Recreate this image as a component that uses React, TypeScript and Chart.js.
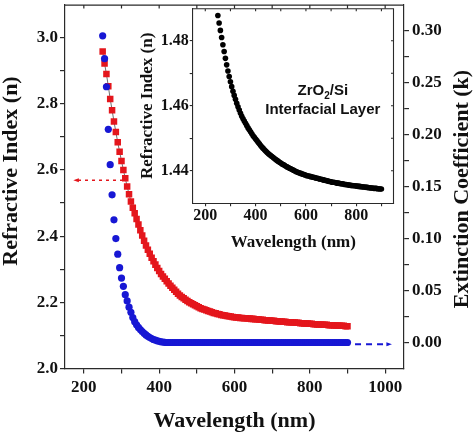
import React, { useEffect, useRef } from 'react';
import { Chart, registerables } from 'chart.js';

Chart.register(...registerables);

// ---------- data ----------
const WAVELENGTH_NM = [
  250, 255, 260, 265, 270, 275, 280, 285, 290, 295,
  300, 305, 310, 315, 320, 325, 330, 335, 340, 345,
  350, 355, 360, 365, 370, 375, 380, 385, 390, 395,
  400, 405, 410, 415, 420, 425, 430, 435, 440, 445,
  450, 455, 460, 465, 470, 475, 480, 485, 490, 495,
  500, 505, 510, 515, 520, 525, 530, 535, 540, 545,
  550, 555, 560, 565, 570, 575, 580, 585, 590, 595,
  600, 605, 610, 615, 620, 625, 630, 635, 640, 645,
  650, 655, 660, 665, 670, 675, 680, 685, 690, 695,
  700, 705, 710, 715, 720, 725, 730, 735, 740, 745,
  750, 755, 760, 765, 770, 775, 780, 785, 790, 795,
  800, 805, 810, 815, 820, 825, 830, 835, 840, 845,
  850, 855, 860, 865, 870, 875, 880, 885, 890, 895,
  900,
];

// Refractive index n of the film (red squares, left axis)
const N_FILM = [
  2.958, 2.922, 2.890, 2.853, 2.815, 2.781, 2.747, 2.715, 2.684, 2.655,
  2.627, 2.600, 2.575, 2.550, 2.527, 2.505, 2.486, 2.469, 2.452, 2.435,
  2.418, 2.402, 2.386, 2.372, 2.359, 2.347, 2.335, 2.324, 2.314, 2.304,
  2.295, 2.286, 2.278, 2.271, 2.264, 2.257, 2.250, 2.244, 2.238, 2.232,
  2.226, 2.221, 2.216, 2.212, 2.208, 2.204, 2.200, 2.197, 2.194, 2.191,
  2.188, 2.185, 2.182, 2.180, 2.178, 2.176, 2.174, 2.172, 2.170, 2.168,
  2.167, 2.165, 2.164, 2.162, 2.161, 2.160, 2.159, 2.158, 2.157, 2.156,
  2.155, 2.154, 2.154, 2.153, 2.153, 2.152, 2.152, 2.151, 2.151, 2.150,
  2.150, 2.149, 2.149, 2.148, 2.147, 2.147, 2.146, 2.146, 2.145, 2.145,
  2.144, 2.144, 2.143, 2.143, 2.142, 2.142, 2.141, 2.141, 2.140, 2.140,
  2.140, 2.139, 2.139, 2.138, 2.138, 2.137, 2.137, 2.136, 2.136, 2.136,
  2.135, 2.135, 2.134, 2.134, 2.133, 2.133, 2.133, 2.132, 2.132, 2.132,
  2.131, 2.131, 2.131, 2.130, 2.130, 2.130, 2.129, 2.129, 2.129, 2.128,
  2.128,
];

// Extinction coefficient k of the film (blue circles, right axis)
const K_FILM = [
  0.295, 0.273, 0.246, 0.205, 0.171, 0.142, 0.118, 0.100, 0.085, 0.072,
  0.062, 0.054, 0.046, 0.040, 0.034, 0.029, 0.024, 0.020, 0.017, 0.0145,
  0.0125, 0.0105, 0.0088, 0.0073, 0.0060, 0.0048, 0.0038, 0.0029, 0.0022, 0.0016,
  0.0011, 0.0007, 0.0004, 0.0002, 0, 0, 0, 0, 0, 0,
  0, 0, 0, 0, 0, 0, 0, 0, 0, 0,
  0, 0, 0, 0, 0, 0, 0, 0, 0, 0,
  0, 0, 0, 0, 0, 0, 0, 0, 0, 0,
  0, 0, 0, 0, 0, 0, 0, 0, 0, 0,
  0, 0, 0, 0, 0, 0, 0, 0, 0, 0,
  0, 0, 0, 0, 0, 0, 0, 0, 0, 0,
  0, 0, 0, 0, 0, 0, 0, 0, 0, 0,
  0, 0, 0, 0, 0, 0, 0, 0, 0, 0,
  0, 0, 0, 0, 0, 0, 0, 0, 0, 0,
  0,
];

// Refractive index of the ZrO2/Si interfacial layer (inset, black dots)
const N_INTERFACE = [
  1.4878, 1.4855, 1.4832, 1.4810, 1.4788, 1.4767, 1.4746, 1.4726, 1.4707, 1.4690,
  1.4674, 1.4659, 1.4645, 1.4632, 1.4620, 1.4608, 1.4597, 1.4587, 1.4577, 1.4568,
  1.4560, 1.4553, 1.4546, 1.4539, 1.4532, 1.4526, 1.4520, 1.4514, 1.4508, 1.4503,
  1.4498, 1.4493, 1.4488, 1.4483, 1.4478, 1.4473, 1.4469, 1.4465, 1.4461, 1.4457,
  1.4453, 1.4450, 1.4447, 1.4444, 1.4441, 1.4438, 1.4435, 1.4432, 1.4429, 1.4426,
  1.4424, 1.4421, 1.4419, 1.4417, 1.4414, 1.4412, 1.4410, 1.4408, 1.4406, 1.4404,
  1.4402, 1.4400, 1.4398, 1.4396, 1.4395, 1.4393, 1.4392, 1.4390, 1.4389, 1.4388,
  1.4386, 1.4385, 1.4384, 1.4383, 1.4382, 1.4381, 1.4380, 1.4379, 1.4378, 1.4377,
  1.4376, 1.4375, 1.4374, 1.4373, 1.4372, 1.4371, 1.4370, 1.4369, 1.4368, 1.4367,
  1.4366, 1.4365, 1.4365, 1.4364, 1.4363, 1.4362, 1.4362, 1.4361, 1.4360, 1.4360,
  1.4359, 1.4358, 1.4358, 1.4357, 1.4356, 1.4356, 1.4355, 1.4355, 1.4354, 1.4354,
  1.4353, 1.4353, 1.4352, 1.4352, 1.4351, 1.4351, 1.4350, 1.4350, 1.4349, 1.4349,
  1.4348, 1.4348, 1.4347, 1.4347, 1.4346, 1.4346, 1.4346, 1.4345, 1.4345, 1.4344,
  1.4344,
];

// tick values
const X_TICKS = [200, 300, 400, 500, 600, 700, 800, 900, 1000];
const X_LABELED = [200, 400, 600, 800, 1000];
const N_TICKS = [2.0, 2.1, 2.2, 2.3, 2.4, 2.5, 2.6, 2.7, 2.8, 2.9, 3.0];
const N_LABELED = ['2.0', '2.2', '2.4', '2.6', '2.8', '3.0'];
const K_TICKS = [0, 0.025, 0.05, 0.075, 0.1, 0.125, 0.15, 0.175, 0.2, 0.225, 0.25, 0.275, 0.3];
const K_LABELED = ['0.00', '0.05', '0.10', '0.15', '0.20', '0.25', '0.30'];
const INSET_X_TICKS = [200, 300, 400, 500, 600, 700, 800, 900];
const INSET_X_LABELED = [200, 400, 600, 800];
const INSET_N_TICKS = [1.44, 1.45, 1.46, 1.47, 1.48];
const INSET_N_LABELED = ['1.44', '1.46', '1.48'];

// axis titles
const N_TITLE = 'Refractive Index (n)';
const K_TITLE = 'Extinction Coefficient (k)';

// annotation arrows (data coordinates)
const N_ARROW = { fromNm: 304, toNm: 172, value: 2.569 };
const K_ARROW = { fromNm: 920, toNm: 1018, value: -0.0017 };
const INSET_LABEL = { nm: 667, line1: 1.4651, line2: 1.459 };

// ---------- styling ----------
const SERIF = '"Liberation Serif", "Times New Roman", Times, serif';
const SANS = '"Liberation Sans", Arial, Helvetica, sans-serif';
const RED = '#e4161c';
const BLUE = '#1717d4';
const AXIS = '#2a2a2a';
const TEXT = '#111111';

function drawArrow(ctx: CanvasRenderingContext2D, x0: number, x1: number, y: number, color: string, dash: number[], width: number, head: number) {
  const dir = x1 > x0 ? 1 : -1;
  ctx.save();
  ctx.strokeStyle = color;
  ctx.fillStyle = color;
  ctx.lineWidth = width;
  ctx.setLineDash(dash);
  ctx.beginPath();
  ctx.moveTo(x0, y);
  ctx.lineTo(x1 - dir * head, y);
  ctx.stroke();
  ctx.setLineDash([]);
  ctx.beginPath();
  ctx.moveTo(x1, y);
  ctx.lineTo(x1 - dir * head * 1.6, y - head * 0.6);
  ctx.lineTo(x1 - dir * head * 1.6, y + head * 0.6);
  ctx.closePath();
  ctx.fill();
  ctx.restore();
}

function drawVerticalTitle(ctx: CanvasRenderingContext2D, text: string, x: number, y: number) {
  ctx.save();
  ctx.translate(x, y);
  ctx.rotate(-Math.PI / 2);
  ctx.font = `bold 22px ${SERIF}`;
  ctx.fillStyle = TEXT;
  ctx.textAlign = 'center';
  ctx.textBaseline = 'middle';
  ctx.fillText(text, 0, 0);
  ctx.restore();
}

const mainDecor = {
  id: 'mainDecor',
  afterDraw(chart: any) {
    const { ctx, chartArea: a, scales } = chart;
    const xs = scales.x;
    ctx.save();
    ctx.strokeStyle = AXIS;
    ctx.lineWidth = 1.2;
    ctx.beginPath();
    ctx.moveTo(a.left, a.top + 0.6);
    ctx.lineTo(a.right, a.top + 0.6);
    X_TICKS.forEach((v) => {
      const px = xs.getPixelForValue(v);
      ctx.moveTo(px, a.top);
      ctx.lineTo(px, a.top + 4);
    });
    ctx.stroke();
    ctx.restore();

    // axis titles, both reading bottom-to-top
    drawVerticalTitle(ctx, N_TITLE, 11, 171);
    drawVerticalTitle(ctx, K_TITLE, 462, 189);

    const yRed = scales.yn.getPixelForValue(N_ARROW.value);
    drawArrow(ctx, xs.getPixelForValue(N_ARROW.fromNm), xs.getPixelForValue(N_ARROW.toNm), yRed, RED, [3, 4], 1.6, 3.5);
    const yBlue = scales.yk.getPixelForValue(K_ARROW.value);
    drawArrow(ctx, xs.getPixelForValue(K_ARROW.fromNm), xs.getPixelForValue(K_ARROW.toNm), yBlue, BLUE, [6, 5], 2.2, 3.5);
  },
};

const insetDecor = {
  id: 'insetDecor',
  afterDraw(chart: any) {
    const { ctx, chartArea: a, scales } = chart;
    const xs = scales.x;
    const ys = scales.y;
    ctx.save();
    ctx.strokeStyle = AXIS;
    ctx.lineWidth = 1.1;
    ctx.beginPath();
    ctx.moveTo(a.left, a.top + 0.5);
    ctx.lineTo(a.right - 0.5, a.top + 0.5);
    ctx.lineTo(a.right - 0.5, a.bottom);
    INSET_X_TICKS.forEach((v) => {
      const px = xs.getPixelForValue(v);
      ctx.moveTo(px, a.top);
      ctx.lineTo(px, a.top + 3);
    });
    INSET_N_TICKS.forEach((v) => {
      const py = ys.getPixelForValue(v);
      ctx.moveTo(a.right, py);
      ctx.lineTo(a.right - 3, py);
    });
    ctx.stroke();

    // "ZrO2/Si" and "Interfacial Layer"
    const cx = xs.getPixelForValue(INSET_LABEL.nm);
    const y1 = ys.getPixelForValue(INSET_LABEL.line1);
    const y2 = ys.getPixelForValue(INSET_LABEL.line2);
    ctx.fillStyle = TEXT;
    ctx.textBaseline = 'alphabetic';
    const big = `bold 15px ${SANS}`;
    const small = `bold 10px ${SANS}`;
    ctx.font = big;
    const wA = ctx.measureText('ZrO').width;
    const wC = ctx.measureText('/Si').width;
    ctx.font = small;
    const wB = ctx.measureText('2').width;
    let x0 = cx - (wA + wB + wC) / 2;
    const base1 = y1 + 5.4;
    ctx.textAlign = 'left';
    ctx.font = big;
    ctx.fillText('ZrO', x0, base1);
    x0 += wA;
    ctx.font = small;
    ctx.fillText('2', x0, base1 + 4);
    x0 += wB;
    ctx.font = big;
    ctx.fillText('/Si', x0, base1);
    ctx.textAlign = 'center';
    ctx.fillText('Interfacial Layer', cx, y2 + 5.4);
    ctx.restore();
  },
};

function pts(ys: number[]) {
  return WAVELENGTH_NM.map((x, i) => ({ x, y: ys[i] }));
}

function setTicks(values: number[]) {
  return (scale: any) => {
    scale.ticks = values.map((value) => ({ value }));
  };
}

export default function App() {
  const mainRef = useRef<HTMLCanvasElement>(null);
  const insetRef = useRef<HTMLCanvasElement>(null);

  useEffect(() => {
    const tickFont = { family: SERIF, size: 17, weight: 'bold' as const, lineHeight: 1 };
    const titleFont = { family: SERIF, size: 22, weight: 'bold' as const, lineHeight: 1 };

    const main = new Chart(mainRef.current as HTMLCanvasElement, {
      type: 'scatter',
      data: {
        datasets: [
          {
            label: 'k',
            data: pts(K_FILM),
            yAxisID: 'yk',
            showLine: false,
            pointStyle: 'circle',
            pointRadius: 3.6,
            pointHoverRadius: 3.6,
            pointBackgroundColor: BLUE,
            pointBorderWidth: 0,
          },
          {
            label: 'n',
            data: pts(N_FILM),
            yAxisID: 'yn',
            showLine: true,
            borderColor: 'rgba(40,40,40,0.85)',
            borderWidth: 0.8,
            pointStyle: 'rect',
            pointRadius: 4.6,
            pointHoverRadius: 4.6,
            pointBackgroundColor: RED,
            pointBorderWidth: 0,
          },
        ],
      },
      options: {
        responsive: false,
        devicePixelRatio: 1,
        animation: false,
        events: [],
        layout: { padding: 0 },
        plugins: { legend: { display: false }, tooltip: { enabled: false } },
        scales: {
          x: {
            type: 'linear',
            position: 'bottom',
            min: 150,
            max: 1050,
            afterBuildTicks: setTicks(X_TICKS),
            afterFit: (s: any) => { s.height = 65.5; s.paddingLeft = 0; s.paddingRight = 0; },
            ticks: {
              autoSkip: false,
              maxRotation: 0,
              padding: 6,
              color: TEXT,
              font: tickFont,
              callback: (v: any) => (X_LABELED.includes(Math.round(v)) ? String(Math.round(v)) : ''),
            },
            grid: { drawOnChartArea: false, drawTicks: true, tickLength: 5, color: AXIS, lineWidth: 1.2 },
            border: { color: AXIS, width: 1.2 },
            title: { display: true, text: 'Wavelength (nm)', color: TEXT, font: titleFont, padding: { top: 0, bottom: 2 } },
          },
          yn: {
            type: 'linear',
            position: 'left',
            min: 2.0,
            max: 3.1,
            afterBuildTicks: setTicks(N_TICKS),
            afterFit: (s: any) => { s.width = 65; s.paddingTop = 0; s.paddingBottom = 0; },
            ticks: {
              autoSkip: false,
              padding: 2,
              color: TEXT,
              font: tickFont,
              callback: (v: any) => {
                const t = Number(v).toFixed(1);
                return N_LABELED.includes(t) ? t : '';
              },
            },
            grid: { drawOnChartArea: false, drawTicks: true, tickLength: 5, color: AXIS, lineWidth: 1.2 },
            border: { color: AXIS, width: 1.2 },
            title: { display: false },
          },
          yk: {
            type: 'linear',
            position: 'right',
            min: -0.025,
            max: 0.325,
            afterBuildTicks: setTicks(K_TICKS),
            afterFit: (s: any) => { s.width = 70; s.paddingTop = 0; s.paddingBottom = 0; },
            ticks: {
              autoSkip: false,
              padding: 3,
              color: TEXT,
              font: tickFont,
              callback: (v: any) => {
                const t = Number(v).toFixed(2);
                return K_LABELED.includes(t) && Math.abs(Number(v) * 20 - Math.round(Number(v) * 20)) < 1e-6 ? t : '';
              },
            },
            grid: { drawOnChartArea: false, drawTicks: true, tickLength: 5, color: AXIS, lineWidth: 1.2 },
            border: { color: AXIS, width: 1.2 },
            title: { display: false },
          },
        },
      } as any,
      plugins: [mainDecor],
    });

    const insetTick = { family: SERIF, size: 16, weight: 'bold' as const, lineHeight: 1 };
    const insetTitle = { family: SERIF, size: 17, weight: 'bold' as const, lineHeight: 1 };

    const inset = new Chart(insetRef.current as HTMLCanvasElement, {
      type: 'scatter',
      data: {
        datasets: [
          {
            label: 'interfacial n',
            data: pts(N_INTERFACE),
            showLine: false,
            pointStyle: 'circle',
            pointRadius: 2.8,
            pointHoverRadius: 2.8,
            pointBackgroundColor: '#000000',
            pointBorderWidth: 0,
          },
        ],
      },
      options: {
        responsive: false,
        devicePixelRatio: 1,
        animation: false,
        events: [],
        layout: { padding: { left: 19.5, top: 8.3, right: 11, bottom: 0 } },
        plugins: { legend: { display: false }, tooltip: { enabled: false } },
        scales: {
          x: {
            type: 'linear',
            position: 'bottom',
            min: 150,
            max: 950,
            afterBuildTicks: setTicks(INSET_X_TICKS),
            afterFit: (s: any) => { s.height = 56.7; s.paddingLeft = 0; s.paddingRight = 0; },
            ticks: {
              autoSkip: false,
              maxRotation: 0,
              padding: 2,
              color: TEXT,
              font: insetTick,
              callback: (v: any) => (INSET_X_LABELED.includes(Math.round(v)) ? String(Math.round(v)) : ''),
            },
            grid: { drawOnChartArea: false, drawTicks: true, tickLength: 3, color: AXIS, lineWidth: 1.1 },
            border: { color: AXIS, width: 1.1 },
            title: { display: true, text: 'Wavelength (nm)', color: TEXT, font: insetTitle, padding: { top: 0, bottom: 8.5 } },
          },
          y: {
            type: 'linear',
            position: 'left',
            min: 1.43,
            max: 1.49,
            afterBuildTicks: setTicks(INSET_N_TICKS),
            afterFit: (s: any) => { s.width = 53.2; s.paddingTop = 0; s.paddingBottom = 0; },
            ticks: {
              autoSkip: false,
              padding: 1,
              color: TEXT,
              font: insetTick,
              callback: (v: any) => {
                const t = Number(v).toFixed(2);
                return INSET_N_LABELED.includes(t) ? t : '';
              },
            },
            grid: { drawOnChartArea: false, drawTicks: true, tickLength: 3, color: AXIS, lineWidth: 1.1 },
            border: { color: AXIS, width: 1.1 },
            title: { display: true, text: 'Refractive Index (n)', color: TEXT, font: insetTitle, padding: { top: 0, bottom: 0 } },
          },
        },
      } as any,
      plugins: [insetDecor],
    });

    return () => {
      main.destroy();
      inset.destroy();
    };
  }, []);

  return (
    <div style={{ position: 'fixed', left: 0, top: 0, width: 474, height: 434, background: '#ffffff', overflow: 'hidden' }}>
      <canvas ref={mainRef} width={474} height={434} style={{ position: 'absolute', left: 0, top: 0, width: 474, height: 434 }} />
      <canvas ref={insetRef} width={285} height={260} style={{ position: 'absolute', left: 120, top: 0, width: 285, height: 260 }} />
    </div>
  );
}
